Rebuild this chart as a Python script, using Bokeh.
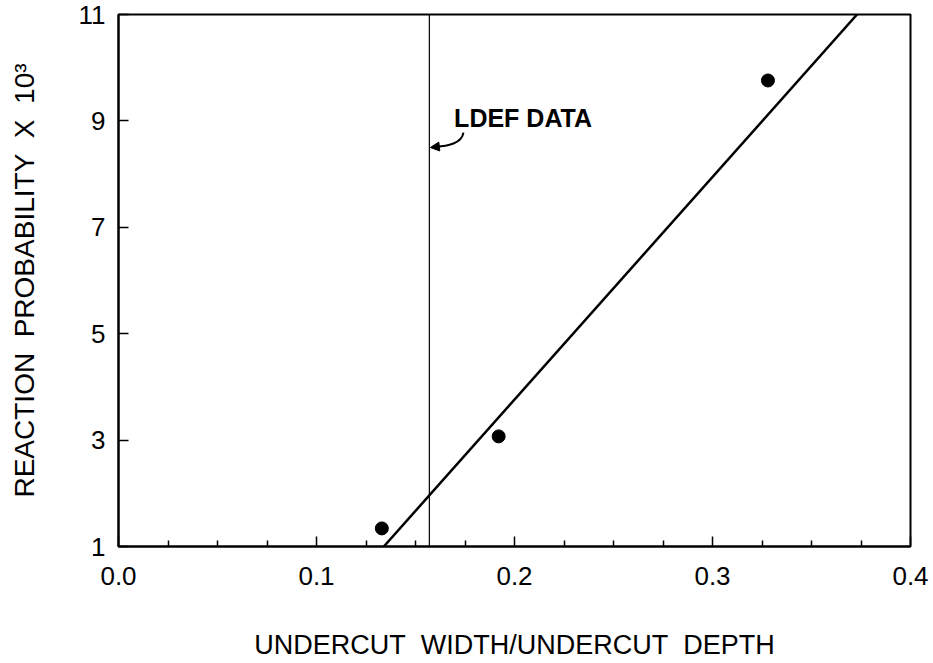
from bokeh.plotting import figure
from bokeh.models import Range1d, FixedTicker, PrintfTickFormatter, Span, Label, Arrow, NormalHead
from bokeh.embed import file_html
from bokeh.resources import INLINE

# Data
x_points = [0.133, 0.192, 0.328]
y_points = [1.34, 3.07, 9.76]
fit_x = [0.134, 0.373]
fit_y = [1.0, 11.0]
ldef_x = 0.157
x_ticks = [0.0, 0.1, 0.2, 0.3, 0.4]
x_minor = [0.025, 0.05, 0.075, 0.125, 0.15, 0.175, 0.225, 0.25, 0.275, 0.325, 0.35, 0.375]
y_ticks = [1, 3, 5, 7, 9, 11]

FONT = "Liberation Sans"
NB = "\u00a0"

p = figure(width=933, height=663, x_range=Range1d(0, 0.4), y_range=Range1d(1, 11),
           min_border_left=118, min_border_right=23, min_border_top=14, min_border_bottom=117,
           output_backend="svg", toolbar_location=None)
p.grid.visible = False
p.outline_line_color = "black"
p.outline_line_width = 2
p.background_fill_color = "white"
p.border_fill_color = "white"

p.xaxis.ticker = FixedTicker(ticks=x_ticks, minor_ticks=x_minor)
p.xaxis.formatter = PrintfTickFormatter(format="%.1f")
p.yaxis.ticker = FixedTicker(ticks=y_ticks, minor_ticks=[])

for ax in (p.xaxis[0], p.yaxis[0]):
    ax.axis_line_color = "black"
    ax.axis_line_width = 2
    ax.major_tick_line_color = "black"
    ax.major_tick_line_width = 1.5
    ax.major_tick_out = 0
    ax.major_tick_in = 10
    ax.minor_tick_line_color = "black"
    ax.minor_tick_line_width = 1.5
    ax.minor_tick_out = 0
    ax.minor_tick_in = 6
    ax.major_label_text_font = FONT
    ax.major_label_text_font_size = "26px"
    ax.major_label_text_color = "black"
    ax.axis_label_text_font = FONT
    ax.axis_label_text_font_style = "normal"
    ax.axis_label_text_color = "black"

p.xaxis.axis_label_text_font_size = "27px"
p.yaxis.axis_label_text_font_size = "28px"
p.xaxis.major_label_standoff = 20
p.yaxis.major_label_standoff = 13
p.xaxis.axis_label = "UNDERCUT" + NB + " WIDTH/UNDERCUT" + NB + " DEPTH"
p.xaxis.axis_label_standoff = 42
p.yaxis.axis_label = "REACTION" + NB + " PROBABILITY" + NB + " X" + NB + " 10\u00b3"
p.yaxis.axis_label_standoff = 36

# LDEF data vertical line
p.add_layout(Span(location=ldef_x, dimension="height", line_color="black", line_width=1.2))

# Fit line and points
p.line(fit_x, fit_y, line_color="black", line_width=2.5)
p.scatter(x_points, y_points, size=13, color="black")

# Annotation
p.add_layout(Label(x=0.1695, y=8.8, text="LDEF DATA", text_font=FONT, text_font_size="25px",
                   text_font_style="bold", text_color="black", text_baseline="bottom"))
p.bezier(x0=[0.1742], y0=[8.78], x1=[0.1605], y1=[8.52], cx0=[0.1735], cy0=[8.58], cx1=[0.166], cy1=[8.52],
         line_color="black", line_width=2)
p.add_layout(Arrow(end=NormalHead(size=9, fill_color="black", line_color="black"),
                   x_start=0.1625, y_start=8.52, x_end=0.1575, y_end=8.50,
                   line_color="black", line_width=2))

open("out.html", "w").write(file_html(p, INLINE))
